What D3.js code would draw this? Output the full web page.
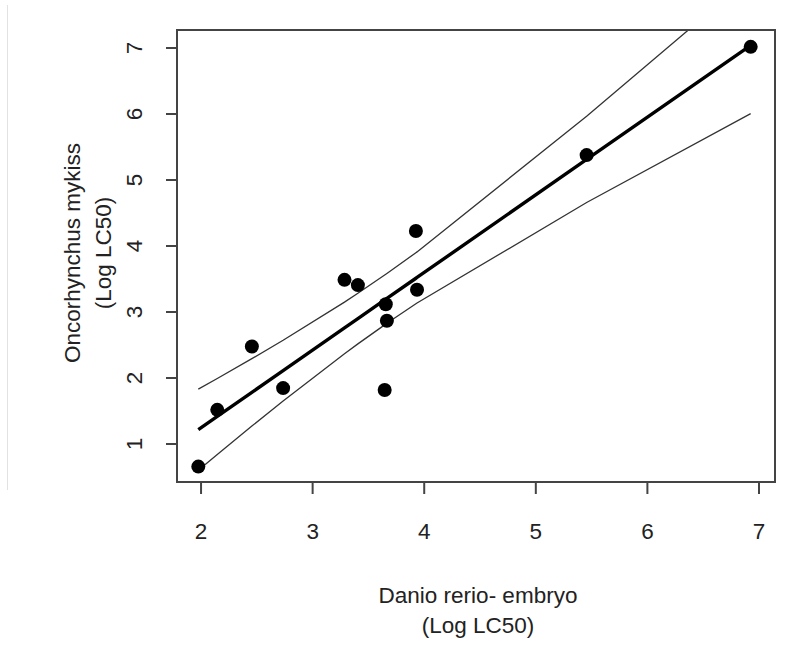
<!DOCTYPE html>
<html>
<head>
<meta charset="utf-8">
<script src="https://cdn.jsdelivr.net/npm/d3@7/dist/d3.min.js"></script>
<style>
  html, body { margin: 0; padding: 0; background: #fff; }
  svg { display: block; }
  text { font-family: "Liberation Sans", Arial, sans-serif; fill: #222; }
</style>
</head>
<body>
<svg id="chart" width="786" height="649"></svg>
<script>
// Log LC50: zebrafish embryo (x) vs rainbow trout (y)
const danioEmbryo = [1.98, 2.15, 2.46, 2.74, 3.29, 3.41, 3.66, 3.67, 3.65, 3.93, 3.94, 5.46, 6.93];
const oncorhynchus = [0.65, 1.51, 2.47, 1.84, 3.48, 3.40, 3.11, 2.86, 1.81, 4.22, 3.33, 5.37, 7.01];
const xTicks = [2, 3, 4, 5, 6, 7];
const yTicks = [1, 2, 3, 4, 5, 6, 7];
const xTitle = ["Danio rerio- embryo", "(Log LC50)"];
const yTitle = ["Oncorhynchus mykiss", "(Log LC50)"];

const FONT = 22.5;
const svg = d3.select("#chart");
const plot = { left: 177, right: 775, top: 30, bottom: 482 };

const x = d3.scaleLinear().domain([1.789, 7.148]).range([plot.left, plot.right]);
const y = d3.scaleLinear().domain([0.417, 7.265]).range([plot.bottom, plot.top]);

// Ordinary least squares fit with 95% confidence band for the mean
const n = danioEmbryo.length;
const mx = d3.mean(danioEmbryo), my = d3.mean(oncorhynchus);
const sxx = d3.sum(danioEmbryo, v => (v - mx) ** 2);
const sxy = d3.sum(danioEmbryo, (v, i) => (v - mx) * (oncorhynchus[i] - my));
const slope = sxy / sxx;
const intercept = my - slope * mx;
const sse = d3.sum(danioEmbryo, (v, i) => (oncorhynchus[i] - (intercept + slope * v)) ** 2);
const s = Math.sqrt(sse / (n - 2));
const tCrit = 2.200985; // t(0.975, df = 11)
const fit = danioEmbryo.slice().sort(d3.ascending).map(v => {
  const yhat = intercept + slope * v;
  const se = s * Math.sqrt(1 / n + (v - mx) ** 2 / sxx);
  return { x: v, fit: yhat, lwr: yhat - tCrit * se, upr: yhat + tCrit * se };
});

// faint page edge on the left
svg.append("line")
  .attr("x1", 7.5).attr("x2", 7.5).attr("y1", 5).attr("y2", 490)
  .attr("stroke", "#e2e2e2").attr("stroke-width", 1);

svg.append("defs").append("clipPath").attr("id", "plot-clip")
  .append("rect")
  .attr("x", plot.left).attr("y", plot.top)
  .attr("width", plot.right - plot.left).attr("height", plot.bottom - plot.top);

const inner = svg.append("g").attr("clip-path", "url(#plot-clip)");

const line = key => d3.line().x(d => x(d.x)).y(d => y(d[key]));

inner.append("path").datum(fit).attr("d", line("upr"))
  .attr("fill", "none").attr("stroke", "#333").attr("stroke-width", 1.3);
inner.append("path").datum(fit).attr("d", line("lwr"))
  .attr("fill", "none").attr("stroke", "#333").attr("stroke-width", 1.3);
inner.append("path").datum(fit).attr("d", line("fit"))
  .attr("fill", "none").attr("stroke", "#000").attr("stroke-width", 3.4);

inner.selectAll("circle.pt").data(danioEmbryo).join("circle")
  .attr("class", "pt")
  .attr("cx", d => x(d))
  .attr("cy", (d, i) => y(oncorhynchus[i]))
  .attr("r", 7)
  .attr("fill", "#000");

// axes
const xAxis = svg.append("g").attr("transform", `translate(0,${plot.bottom})`)
  .call(d3.axisBottom(x).tickValues(xTicks).tickSize(12).tickFormat(d3.format("d")));
const yAxis = svg.append("g").attr("transform", `translate(${plot.left},0)`)
  .call(d3.axisLeft(y).tickValues(yTicks).tickSize(11).tickFormat(d3.format("d")));

[xAxis, yAxis].forEach(g => {
  g.select(".domain").remove();
  g.selectAll(".tick line").attr("stroke", "#444").attr("stroke-width", 2);
  g.selectAll(".tick text").attr("font-size", FONT).attr("fill", "#222")
    .attr("font-family", "'Liberation Sans', Arial, sans-serif");
});
xAxis.selectAll(".tick text").attr("dy", null).attr("y", 57);
// y tick labels read bottom-to-top
yAxis.selectAll(".tick text")
  .attr("x", null).attr("dy", null)
  .attr("text-anchor", "middle")
  .attr("transform", "translate(-35.5,0) rotate(-90)")
  .attr("y", 0);

// plot frame
svg.append("rect")
  .attr("x", plot.left).attr("y", plot.top)
  .attr("width", plot.right - plot.left).attr("height", plot.bottom - plot.top)
  .attr("fill", "none").attr("stroke", "#444").attr("stroke-width", 2);

// axis titles
const cx = 478;
svg.append("text").attr("x", cx).attr("y", 603).attr("text-anchor", "middle")
  .attr("font-size", FONT).text(xTitle[0]);
svg.append("text").attr("x", cx).attr("y", 633).attr("text-anchor", "middle")
  .attr("font-size", FONT).text(xTitle[1]);

const cy = 253;
svg.append("text").attr("transform", `translate(80,${cy}) rotate(-90)`)
  .attr("text-anchor", "middle").attr("font-size", FONT).text(yTitle[0]);
svg.append("text").attr("transform", `translate(111,${cy}) rotate(-90)`)
  .attr("text-anchor", "middle").attr("font-size", FONT).text(yTitle[1]);
</script>
</body>
</html>
